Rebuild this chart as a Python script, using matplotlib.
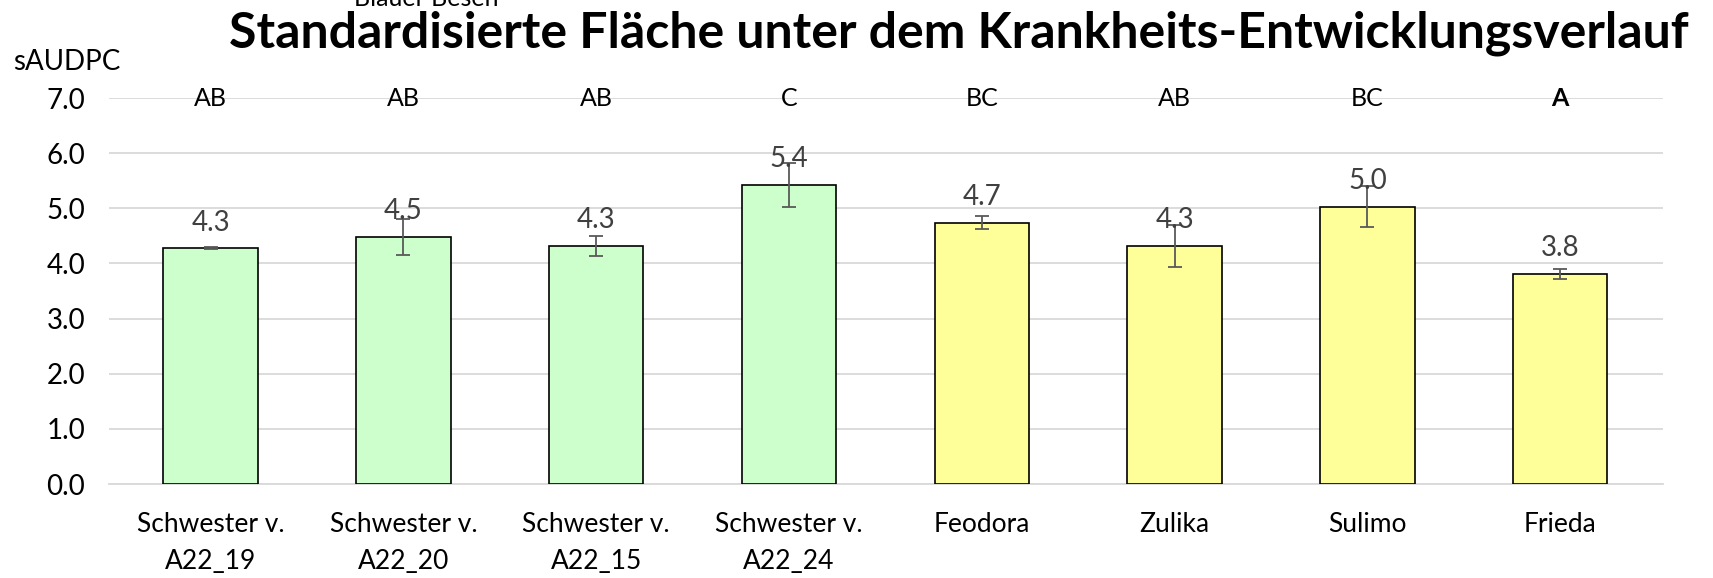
import matplotlib.pyplot as plt
import numpy as np

plt.rcParams['font.family'] = ['Lato', 'DejaVu Sans']

# Daten
sorten = ['Schwester v.\nA22_19', 'Schwester v.\nA22_20', 'Schwester v.\nA22_15', 'Schwester v.\nA22_24',
          'Feodora', 'Zulika', 'Sulimo', 'Frieda']
werte = [4.28, 4.48, 4.32, 5.43, 4.74, 4.32, 5.03, 3.81]
fehler = [0.02, 0.33, 0.18, 0.40, 0.12, 0.38, 0.37, 0.09]
gruppen = ['AB', 'AB', 'AB', 'C', 'BC', 'AB', 'BC', 'A']
farben = ['#CCFFCC'] * 4 + ['#FFFF99'] * 4

fig = plt.figure(figsize=(17.13, 5.78), dpi=100)
ax = fig.add_axes([0.0636, 0.1626, 0.9072, 0.6678])

x = np.arange(len(sorten))
ax.bar(x, werte, width=0.49, color=farben, edgecolor='black', linewidth=1.2, zorder=3)
ax.errorbar(x, werte, yerr=fehler, fmt='none', ecolor='#595959', elinewidth=1.3,
            capsize=5, capthick=1.3, zorder=4)

# Werte ueber den Balken
for i, v in enumerate(werte):
    ax.annotate(f'{v:.1f}', (x[i], v), xytext=(0, 9), textcoords='offset points',
                ha='center', va='bottom', fontsize=20, color='#404040', zorder=5)

# Buchstaben (Signifikanzgruppen)
for i, g in enumerate(gruppen):
    ax.text(x[i], 7.0, g, ha='center', va='center', fontsize=18, color='black',
            fontweight='bold' if i == len(gruppen) - 1 else 'normal', zorder=5)

ax.set_xlim(-0.527, len(sorten) - 0.467)
ax.set_ylim(0, 7)
ax.set_yticks(np.arange(0, 7.01, 1.0))
ax.set_yticklabels([f'{t:.1f}' for t in np.arange(0, 7.01, 1.0)], fontsize=20)
ax.set_xticks(x)
ax.set_xticklabels(sorten, fontsize=19, linespacing=1.6)
ax.tick_params(axis='both', length=0)
ax.tick_params(axis='x', pad=20)
ax.tick_params(axis='y', pad=17)
ax.grid(axis='y', color='#D9D9D9', linewidth=1.3, zorder=0)
for s in ['top', 'right', 'left']:
    ax.spines[s].set_visible(False)
ax.spines['bottom'].set_color('#D9D9D9')
ax.spines['bottom'].set_linewidth(1.3)

fig.text(0.0075, 0.892, 'sAUDPC', fontsize=20, ha='left', va='center')
fig.text(0.249, 1.003, 'Blauer Besen', fontsize=18, ha='center', va='center')
fig.text(0.5596, 0.943, 'Standardisierte Fläche unter dem Krankheits-Entwicklungsverlauf',
         fontsize=36, fontweight='bold', ha='center', va='center')

fig.savefig('out.png', dpi=100)
